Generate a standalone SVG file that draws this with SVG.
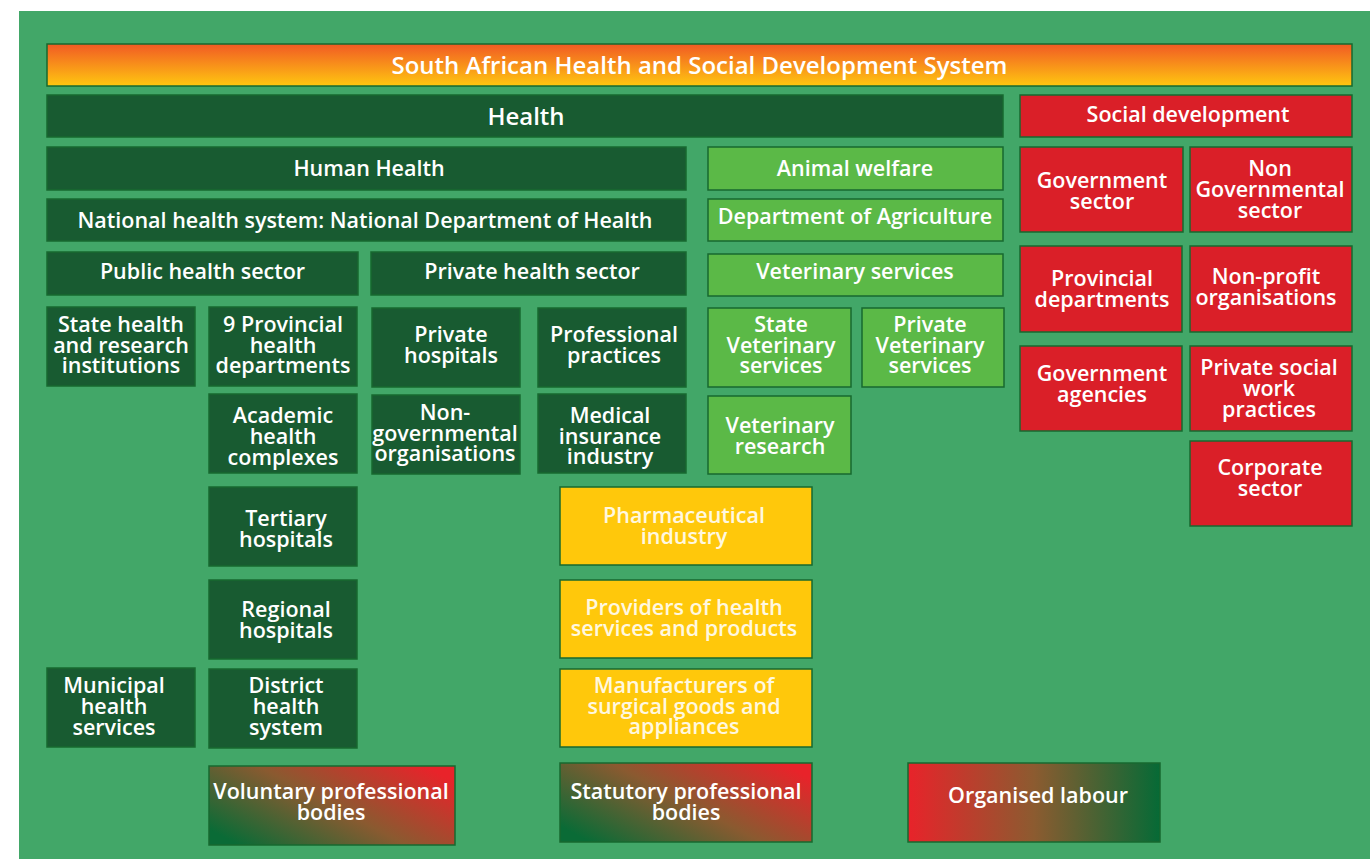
<svg xmlns="http://www.w3.org/2000/svg" width="1370" height="859" viewBox="0 0 1370 859">
<defs>
<linearGradient id="gTitle" x1="0" y1="0" x2="0" y2="1">
<stop offset="0" stop-color="#F15A24"/>
<stop offset="1" stop-color="#FFC710"/>
</linearGradient>
<linearGradient id="gProf" x1="0" y1="0.8" x2="1" y2="0.2">
<stop offset="0" stop-color="#0A6B36"/>
<stop offset="0.5" stop-color="#8A5A30"/>
<stop offset="1" stop-color="#E8232A"/>
</linearGradient>
<linearGradient id="gLab" x1="0" y1="0" x2="1" y2="0">
<stop offset="0" stop-color="#E8232A"/>
<stop offset="0.5" stop-color="#8C5B30"/>
<stop offset="1" stop-color="#066A36"/>
</linearGradient>
<style>
.box{stroke:#17692F;stroke-width:1.5}
.dk{fill:#185B31}
.lg{fill:#5BB947}
.rd{fill:#DA1F28}
.yl{fill:#FFC80B}
.t{fill:#FFFFFF;font-family:"Open Sans","Liberation Sans",sans-serif;font-weight:600;font-size:21.5px;text-anchor:middle}
.big{font-size:24px}
.ty{fill:#FFF8E0}
</style>
</defs>
<rect x="0" y="0" width="1370" height="859" fill="#FFFFFF"/>
<rect x="19" y="11" width="1351" height="848" fill="#42A768"/>

<g id="title"><rect class="box" x="47" y="44" width="1305" height="42" fill="url(#gTitle)"/><text class="t big" x="699.5" y="74">South African Health and Social Development System</text></g>
<g id="health"><rect class="box dk" x="47" y="95" width="956" height="42"/><text class="t big" x="526" y="125">Health</text></g>
<g id="social"><rect class="box rd" x="1020" y="95" width="332" height="42"/><text class="t" x="1188" y="122">Social development</text></g>

<g id="human"><rect class="box dk" x="47" y="147" width="639" height="43"/><text class="t" x="369" y="176">Human Health</text></g>
<g id="national"><rect class="box dk" x="47" y="199" width="639" height="42"/><text class="t" x="365" y="228">National health system: National Department of Health</text></g>
<g id="public"><rect class="box dk" x="47" y="252" width="311" height="43"/><text class="t" x="202.5" y="279">Public health sector</text></g>
<g id="private"><rect class="box dk" x="371" y="252" width="315" height="43"/><text class="t" x="532" y="279">Private health sector</text></g>

<g id="stateh"><rect class="box dk" x="47" y="307" width="148" height="79"/><text class="t"><tspan x="121" y="332">State health</tspan><tspan x="121" y="352.5">and research</tspan><tspan x="121" y="373">institutions</tspan></text></g>
<g id="prov9"><rect class="box dk" x="209" y="307" width="148" height="79"/><text class="t"><tspan x="283" y="332">9 Provincial</tspan><tspan x="283" y="352.5">health</tspan><tspan x="283" y="373">departments</tspan></text></g>
<g id="academic"><rect class="box dk" x="209" y="394" width="148" height="79"/><text class="t"><tspan x="283" y="423">Academic</tspan><tspan x="283" y="444">health</tspan><tspan x="283" y="465">complexes</tspan></text></g>
<g id="tertiary"><rect class="box dk" x="209" y="487" width="148" height="79"/><text class="t"><tspan x="286" y="526">Tertiary</tspan><tspan x="286" y="547">hospitals</tspan></text></g>
<g id="regional"><rect class="box dk" x="209" y="580" width="148" height="79"/><text class="t"><tspan x="286" y="617">Regional</tspan><tspan x="286" y="637.5">hospitals</tspan></text></g>
<g id="municipal"><rect class="box dk" x="47" y="668" width="148" height="79"/><text class="t"><tspan x="114" y="693">Municipal</tspan><tspan x="114" y="714">health</tspan><tspan x="114" y="735">services</tspan></text></g>
<g id="district"><rect class="box dk" x="209" y="669" width="148" height="79"/><text class="t"><tspan x="286" y="693">District</tspan><tspan x="286" y="714">health</tspan><tspan x="286" y="735">system</tspan></text></g>

<g id="privhosp"><rect class="box dk" x="372" y="308" width="148" height="79"/><text class="t"><tspan x="451" y="342">Private</tspan><tspan x="451" y="363">hospitals</tspan></text></g>
<g id="profprac"><rect class="box dk" x="538" y="308" width="148" height="79"/><text class="t"><tspan x="614" y="342">Professional</tspan><tspan x="614" y="363">practices</tspan></text></g>
<g id="ngo"><rect class="box dk" x="372" y="395" width="148" height="79"/><text class="t"><tspan x="445" y="420">Non-</tspan><tspan x="445" y="440.5">governmental</tspan><tspan x="445" y="461">organisations</tspan></text></g>
<g id="medins"><rect class="box dk" x="538" y="394" width="148" height="79"/><text class="t"><tspan x="610" y="423">Medical</tspan><tspan x="610" y="443.5">insurance</tspan><tspan x="610" y="464">industry</tspan></text></g>

<g id="animal"><rect class="box lg" x="708" y="147" width="295" height="43"/><text class="t" x="855" y="176">Animal welfare</text></g>
<g id="agri"><rect class="box lg" x="708" y="199" width="295" height="42"/><text class="t" x="855" y="224">Department of Agriculture</text></g>
<g id="vetserv"><rect class="box lg" x="708" y="254" width="295" height="42"/><text class="t" x="855" y="279">Veterinary services</text></g>
<g id="statevet"><rect class="box lg" x="708" y="308" width="143" height="79"/><text class="t"><tspan x="781" y="332">State</tspan><tspan x="781" y="353">Veterinary</tspan><tspan x="781" y="373">services</tspan></text></g>
<g id="privvet"><rect class="box lg" x="862" y="308" width="142" height="79"/><text class="t"><tspan x="930" y="332">Private</tspan><tspan x="930" y="353">Veterinary</tspan><tspan x="930" y="373">services</tspan></text></g>
<g id="vetres"><rect class="box lg" x="708" y="396" width="143" height="78"/><text class="t"><tspan x="780" y="433">Veterinary</tspan><tspan x="780" y="454">research</tspan></text></g>

<g id="pharm"><rect class="box yl" x="560" y="487" width="252" height="78"/><text class="t ty"><tspan x="684" y="523">Pharmaceutical</tspan><tspan x="684" y="543.5">industry</tspan></text></g>
<g id="providers"><rect class="box yl" x="560" y="580" width="252" height="78"/><text class="t ty"><tspan x="684" y="615">Providers of health</tspan><tspan x="684" y="636">services and products</tspan></text></g>
<g id="manuf"><rect class="box yl" x="560" y="669" width="252" height="78"/><text class="t ty"><tspan x="684" y="693">Manufacturers of</tspan><tspan x="684" y="713.5">surgical goods and</tspan><tspan x="684" y="734">appliances</tspan></text></g>

<g id="govsec"><rect class="box rd" x="1020" y="147" width="163" height="85"/><text class="t"><tspan x="1102" y="188">Government</tspan><tspan x="1102" y="209">sector</tspan></text></g>
<g id="nongov"><rect class="box rd" x="1190" y="147" width="162" height="85"/><text class="t"><tspan x="1270" y="176">Non</tspan><tspan x="1270" y="197">Governmental</tspan><tspan x="1270" y="218">sector</tspan></text></g>
<g id="provdep"><rect class="box rd" x="1020" y="246" width="162" height="86"/><text class="t"><tspan x="1102" y="286">Provincial</tspan><tspan x="1102" y="307">departments</tspan></text></g>
<g id="nonprofit"><rect class="box rd" x="1190" y="246" width="162" height="86"/><text class="t"><tspan x="1266" y="284">Non-profit</tspan><tspan x="1266" y="305">organisations</tspan></text></g>
<g id="govag"><rect class="box rd" x="1020" y="346" width="162" height="85"/><text class="t"><tspan x="1102" y="381">Government</tspan><tspan x="1102" y="402">agencies</tspan></text></g>
<g id="privsoc"><rect class="box rd" x="1190" y="346" width="162" height="85"/><text class="t"><tspan x="1269" y="375">Private social</tspan><tspan x="1269" y="396">work</tspan><tspan x="1269" y="417">practices</tspan></text></g>
<g id="corp"><rect class="box rd" x="1190" y="441" width="162" height="85"/><text class="t"><tspan x="1270" y="475">Corporate</tspan><tspan x="1270" y="496">sector</tspan></text></g>

<g id="voluntary"><rect class="box" x="209" y="766" width="246" height="79" fill="url(#gProf)"/><text class="t"><tspan x="331" y="799">Voluntary professional</tspan><tspan x="331" y="820">bodies</tspan></text></g>
<g id="statutory"><rect class="box" x="560" y="763" width="252" height="79" fill="url(#gProf)"/><text class="t"><tspan x="686" y="799">Statutory professional</tspan><tspan x="686" y="820">bodies</tspan></text></g>
<g id="organised"><rect class="box" x="908" y="763" width="252" height="79" fill="url(#gLab)"/><text class="t" x="1038" y="803">Organised labour</text></g>

<g id="connectors"></g>
</svg>
